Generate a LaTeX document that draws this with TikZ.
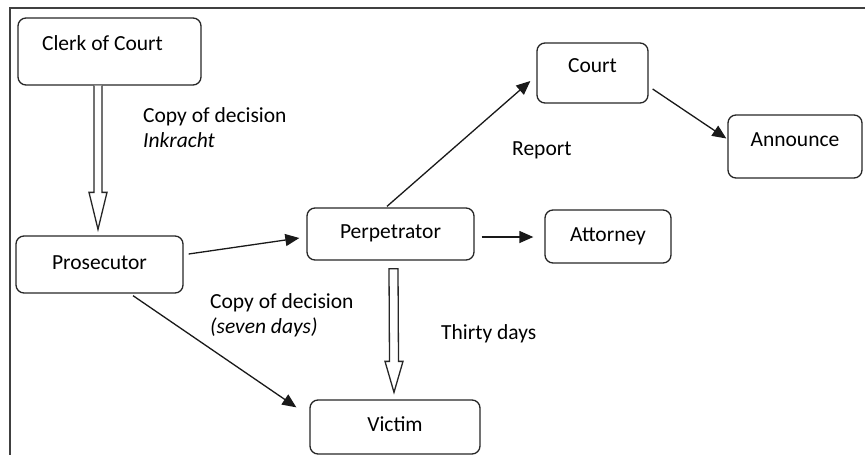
\documentclass[tikz,border=0pt]{standalone}
\usepackage{fontspec}
\setmainfont{Carlito}
\usetikzlibrary{arrows.meta,calc}
\begin{document}
\begin{tikzpicture}[x=1pt,y=-1pt,
  box/.style={draw=black!85, line width=1.3pt, rounded corners=8pt, inner sep=0pt,
    font=\fontsize{21.5}{25}\selectfont, text height=14pt, text depth=5pt},
  lbl/.style={anchor=base west, inner sep=0pt, font=\fontsize{21.5}{25}\selectfont},
  conn/.style={line width=1.3pt, draw=black!90, -{Triangle[length=14pt,width=12pt]}},
  hollow/.style={line width=1.3pt, draw=black!85, fill=white, line join=miter}
]
\useasboundingbox (0,0) rectangle (865,455);
\draw[line width=1.5pt, black!75] (10,460) -- (10,8) -- (870,8);

\node[box, minimum width=183pt, minimum height=67pt, text height=15pt, text depth=18pt] (clerk) at (109.5,51.5) {\hspace*{-14pt}Clerk of Court};
\node[box, minimum width=167pt, minimum height=57pt] (pros) at (99.5,264.5) {Prosecutor};
\node[box, minimum width=167pt, minimum height=52pt] (perp) at (390.5,234) {Perpetrator};
\node[box, minimum width=170pt, minimum height=54pt] (victim) at (395,427) {Victim};
\node[box, minimum width=111pt, minimum height=60pt, text height=14pt, text depth=16pt] (court) at (592.5,73) {Court};
\node[box, minimum width=134pt, minimum height=63pt, text height=15pt, text depth=15pt] (announce) at (795,146.5) {Announce};
\node[box, minimum width=126pt, minimum height=53pt] (attorney) at (608,236.5) {Attorney};

% hollow arrows
\coordinate (a1s) at ($(clerk.south -| pros.north)+(-1.5,0)$);
\coordinate (a1e) at ($(pros.north)+(-1.5,-6)$);
\draw[hollow] ($(a1s)+(-4,0)$) -- ($(a1e)+(-4,-37)$) -- ($(a1e)+(-9,-37)$) -- (a1e)
  -- ($(a1e)+(9,-37)$) -- ($(a1e)+(4,-37)$) -- ($(a1s)+(4,0)$);
\coordinate (a2s) at ($(perp.south)+(3,8)$);
\coordinate (a2e) at ($(victim.north)+(-1,-7)$);
\draw[hollow] ($(a2s)+(-4.5,0)$) -- ($(a2e)+(-4.5,-31)$) -- ($(a2e)+(-9,-31)$) -- (a2e)
  -- ($(a2e)+(9,-31)$) -- ($(a2e)+(4.5,-31)$) -- ($(a2s)+(4.5,0)$) -- cycle;

% connectors
\draw[conn] ($(pros.east)+(5,-10.5)$) -- ($(perp.west)+(-7,4)$);
\draw[conn] ($(pros.south)+(33.5,2)$) -- ($(victim.north west)+(-13,8)$);
\draw[conn] ($(perp.north)+(-3.5,-1)$) -- ($(court.west)+(-6,8)$);
\draw[conn] ($(court.east)+(4,16)$) -- ($(announce.west)+(-1,-8)$);
\draw[conn] ($(perp.east)+(7,3)$) -- ($(attorney.west)+(-11,0.5)$);

% labels
\node[lbl] (l1) at (143,122) {Copy of decision};
\node[lbl] (l2) at (143,147) {\itshape Inkracht};
\node[lbl] (l3) at (512,155) {Report};
\node[lbl] (l4) at (210,308) {Copy of decision};
\node[lbl] (l5) at (210,333) {\itshape (seven days)};
\node[lbl] (l6) at (441,339) {Thirty days};
\end{tikzpicture}
\end{document}
